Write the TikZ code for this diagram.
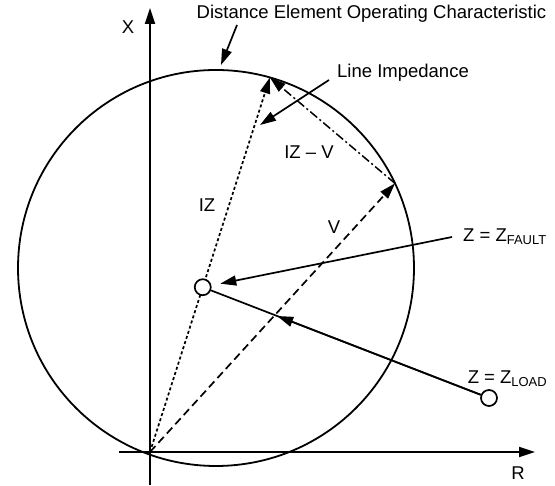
\documentclass[tikz,border=0pt]{standalone}
\usepackage{fontspec}
\setmainfont{Liberation Sans}
\usetikzlibrary{arrows.meta,calc}
\tikzset{
  tipend/.tip={Triangle[length=16pt,width=10pt]},
  axisline/.style={-tipend, line width=1.8pt},
  charline/.style={line width=1.8pt},
  plainline/.style={line width=1.7pt},
  pointer/.style={-tipend, line width=1.7pt},
  izline/.style={-tipend, line width=1.7pt, dash pattern=on 3pt off 2.4pt},
  vline/.style={-tipend, line width=1.7pt, dash pattern=on 8pt off 4.5pt},
  diffline/.style={-tipend, line width=1.5pt, dash pattern=on 9pt off 3pt on 2pt off 3pt},
  zmark/.style={circle, draw, fill=white, line width=1.7pt, minimum size=16pt, inner sep=0pt},
  lbl/.style={font=\fontsize{18.5}{21}\selectfont, inner sep=0pt},
}

\begin{document}
\begin{tikzpicture}[x=1pt,y=1pt]
  \useasboundingbox (0,0) rectangle (555,486);
  % points of the R-X plane
  \coordinate (O) at (150,34);
  \coordinate (C) at (216,218);
  \coordinate (iztip) at ($(C)+(74.2:198)$);
  \coordinate (vtip) at ($(C)+(25.3:198)$);
  \coordinate (zc) at ($(O)!0.44!(iztip)$);
  \coordinate (xbot) at (150,1);
  \coordinate (xtop) at (150,478);
  \coordinate (rleft) at (119,34);
  \coordinate (rright) at (535,34);

  % axes and characteristic
  \draw[axisline] (xbot) -- (xtop);
  \draw[axisline] (rleft) -- (rright);
  \draw[charline] (C) circle[radius=198];

  % phasors
  \draw[izline] (O) -- (iztip);
  \draw[vline] (O) -- (vtip);
  \draw[diffline] (vtip) -- (iztip);

  % impedance points
  \node[zmark] (zpt) at (zc) {};
  \node[zmark] (zload) at (489,88) {};
  \coordinate (loadmid) at ($(zpt)!0.26!(zload)$);
  \draw[plainline] (zload) -- (zpt);
  \draw[pointer] (zload) -- (loadmid);

  % labels
  \node[lbl] (xlbl) at (128,459) {X};
  \node[lbl] (rlbl) at (518,13) {R};
  \node[lbl] (izlbl) at (207,281) {IZ};
  \node[lbl] (vlbl) at (334,259) {V};
  \node[lbl] (difflbl) at (309,334) {IZ -- V};
  \node[lbl] (charlbl) at (371.5,472) {Distance Element Operating Characteristic};
  \node[lbl, anchor=west] (limplbl) at (337,413) {Line Impedance};
  \node[lbl, anchor=west] (faultlbl) at (463,249) {Z = Z\textsubscript{FAULT}};
  \node[lbl] (loadlbl) at (507.5,107) {Z = Z\textsubscript{LOAD}};

  % callouts
  \coordinate (charstart) at (237,461);
  \coordinate (charend) at (221,421);
  \coordinate (limpstart) at (329,406);
  \coordinate (limpend) at (260,361);
  \coordinate (faultstart) at (452,249);
  \draw[pointer] (charstart) -- (charend);
  \draw[pointer] (limpstart) -- (limpend);
  \draw[pointer, shorten >=9pt] (faultstart) -- (zpt);
\end{tikzpicture}
\end{document}
